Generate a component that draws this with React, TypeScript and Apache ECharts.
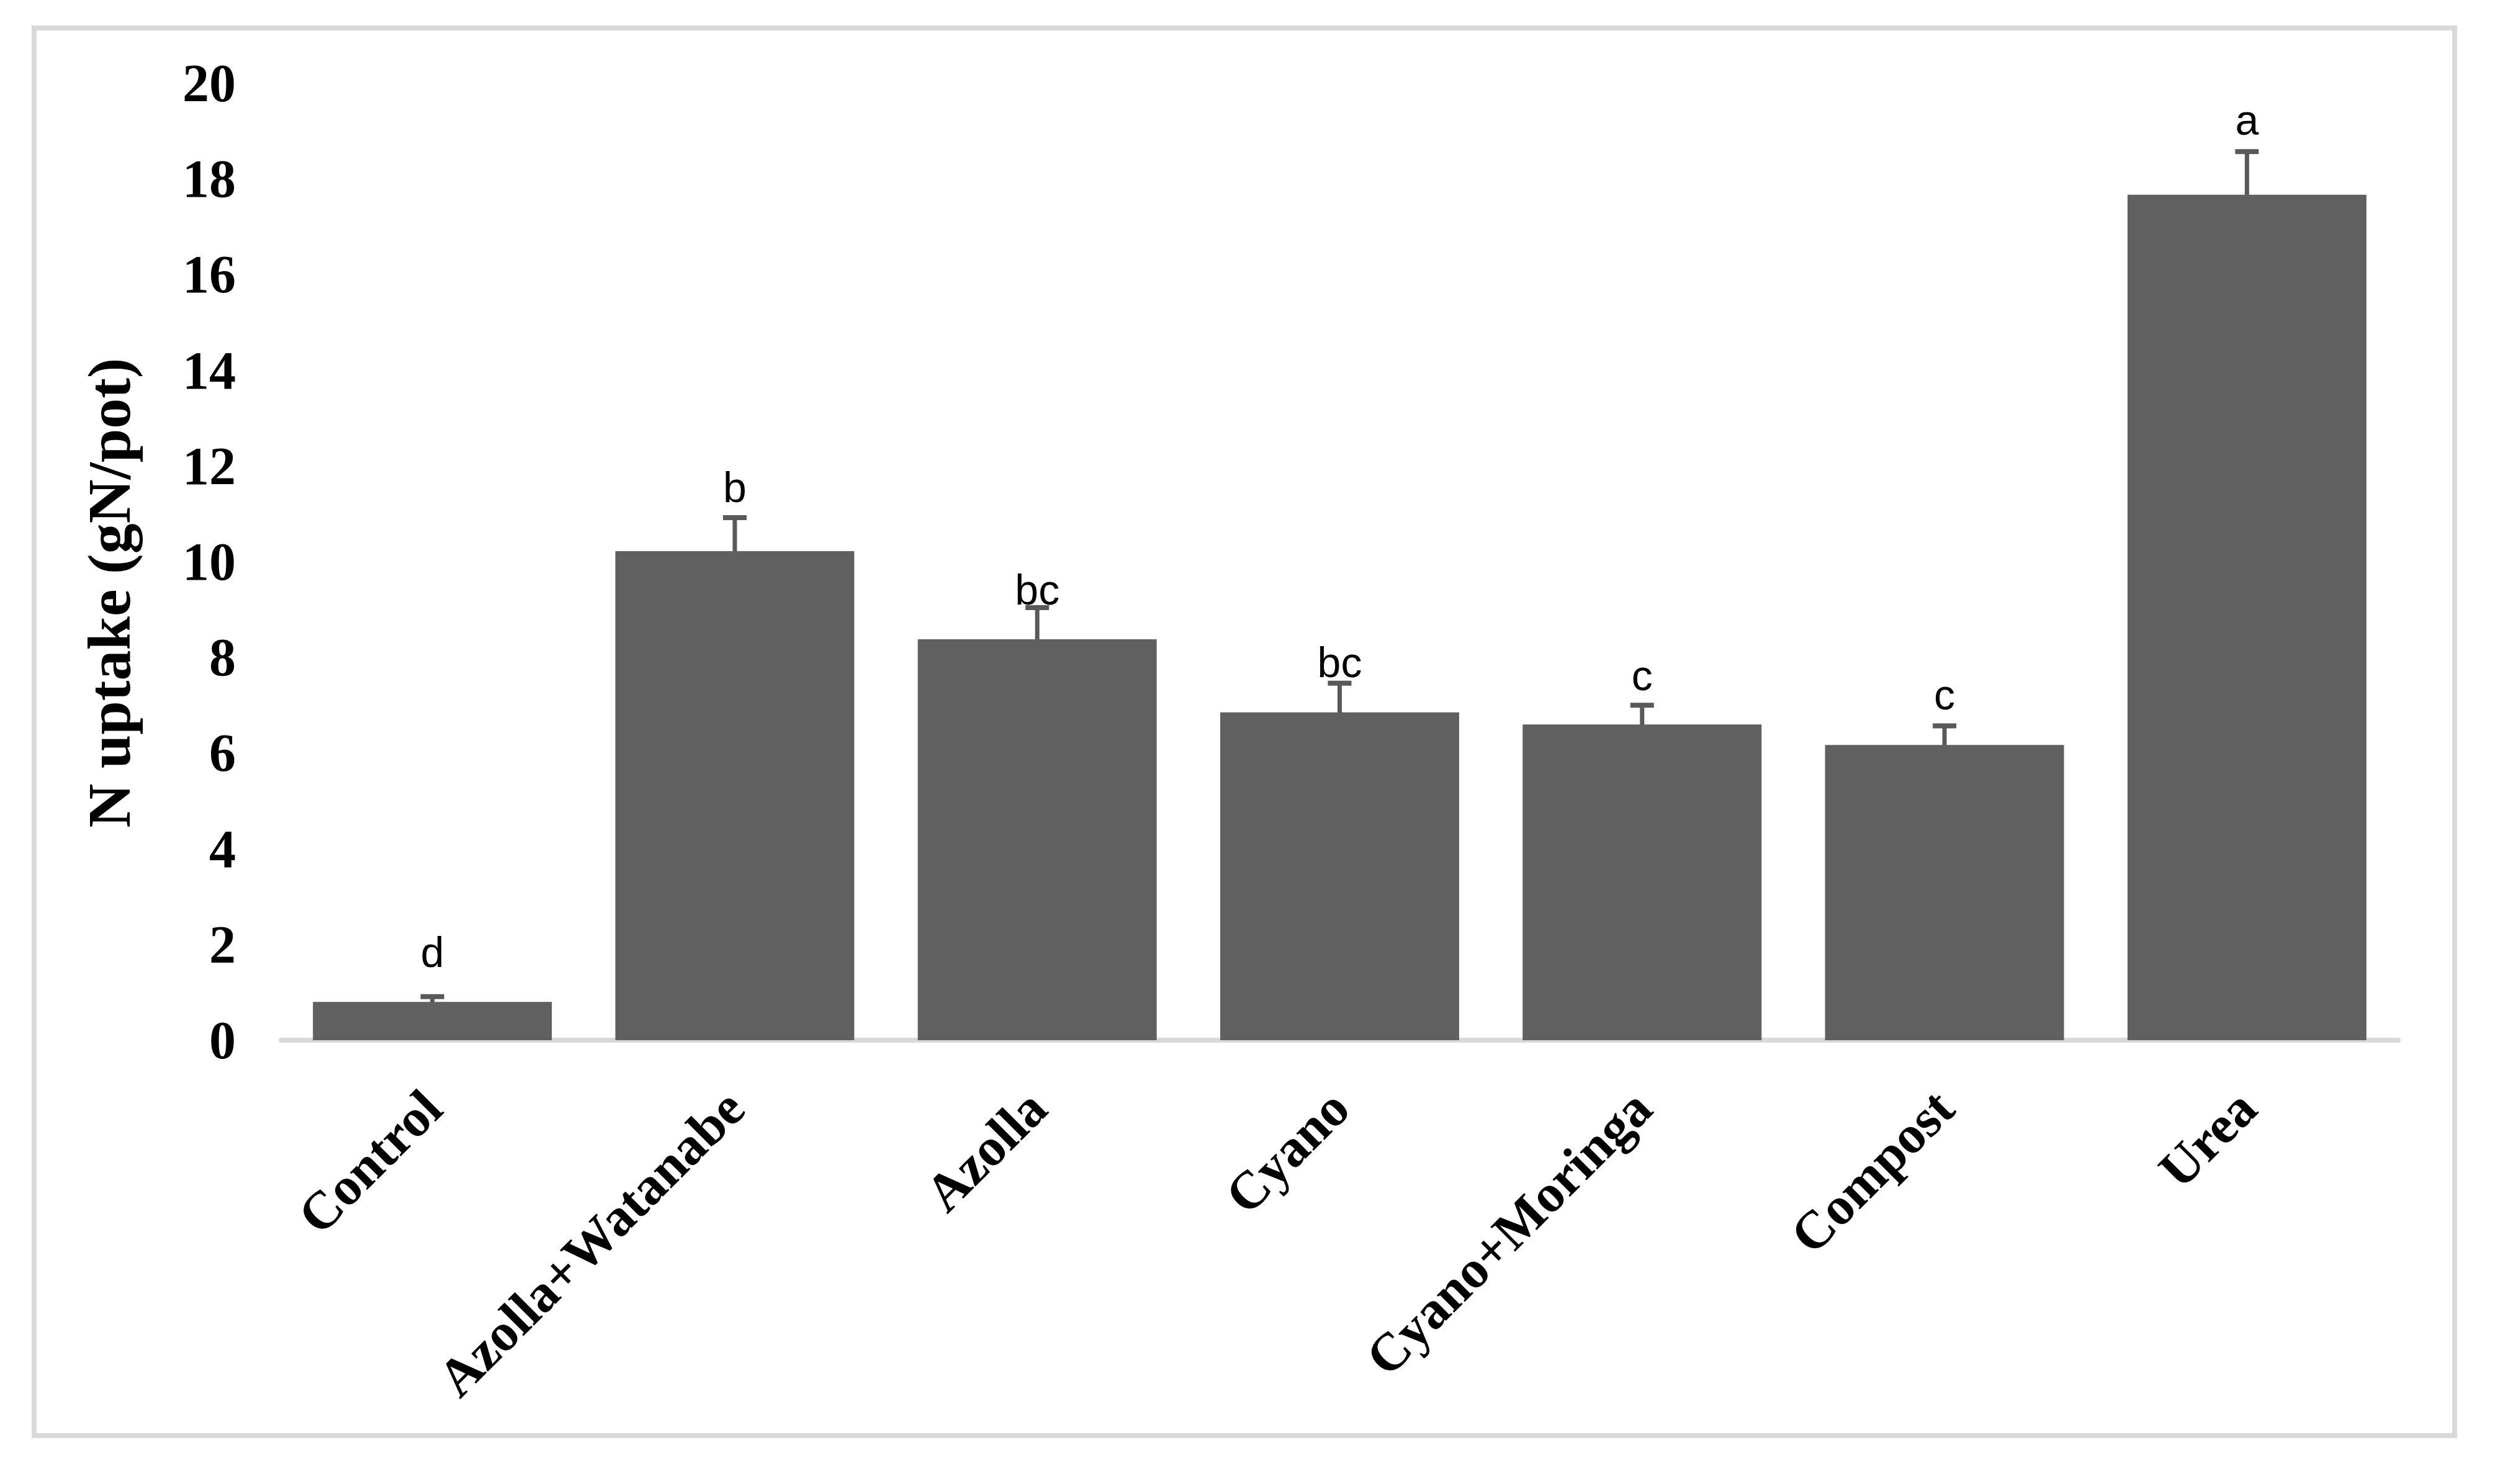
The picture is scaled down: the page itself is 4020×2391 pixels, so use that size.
import React, { useEffect, useRef } from "react";
import * as echarts from "echarts";

const categories = ["Control", "Azolla+Watanabe", "Azolla", "Cyano", "Cyano+Moringa", "Compost", "Urea"];
const uptake = [0.8, 10.22, 8.38, 6.85, 6.6, 6.17, 17.67];
const errors = [0.11, 0.7, 0.66, 0.61, 0.4, 0.4, 0.9];
const letters = ["d", "b", "bc", "bc", "c", "c", "a"];
const letterBaseline = [1.58, 11.3, 9.16, 7.64, 7.37, 6.97, 18.98];
const yTitle = "N uptake (gN/pot)";

export default function App() {
  const ref = useRef<HTMLDivElement>(null);
  useEffect(() => {
    if (!ref.current) return;
    const chart = echarts.init(ref.current, null, { renderer: "svg" });
    const serif = "'Liberation Serif', 'Times New Roman', serif";
    const sans = "'Liberation Sans', Arial, sans-serif";
    chart.setOption({
      animation: false,
      backgroundColor: "#ffffff",
      grid: { left: 453, right: 156, top: 134, bottom: 715, containLabel: false },
      xAxis: {
        type: "category",
        data: categories,
        axisLine: { show: true, lineStyle: { color: "#d9d9d9", width: 8 } },
        axisTick: { show: false },
        axisLabel: {
          interval: 0,
          rotate: 45,
          margin: 95,
          color: "#000",
          fontFamily: serif,
          fontWeight: "bold",
          fontSize: 86,
        },
      },
      yAxis: {
        type: "value",
        min: 0,
        max: 20,
        interval: 2,
        splitLine: { show: false },
        axisLine: { show: false },
        axisTick: { show: false },
        axisLabel: {
          margin: 73,
          color: "#000",
          fontFamily: serif,
          fontWeight: "bold",
          fontSize: 86,
        },
      },
      graphic: [
        {
          type: "rect",
          shape: { x: 55, y: 45, width: 3900, height: 2268 },
          style: { fill: "none", stroke: "#d9d9d9", lineWidth: 8 },
          silent: true,
        },
        {
          type: "text",
          x: 176,
          y: 955,
          rotation: Math.PI / 2,
          style: {
            text: yTitle,
            fontFamily: serif,
            fontWeight: "bold",
            fontSize: 98,
            fill: "#000",
            align: "center",
            verticalAlign: "middle",
          },
        },
      ],
      series: [
        {
          type: "bar",
          data: uptake,
          barCategoryGap: "21%",
          itemStyle: { color: "#606060" },
        },
        {
          type: "custom",
          data: categories.map((c, i) => [i, uptake[i], errors[i], letterBaseline[i]]),
          renderItem: (params: any, api: any) => {
            const i = api.value(0);
            const v = api.value(1);
            const e = api.value(2);
            const top = api.coord([i, v + e]);
            const bot = api.coord([i, v - e]);
            const lb = api.coord([i, api.value(3)]);
            const x = top[0];
            const half = 19;
            const st = { stroke: "#595959", lineWidth: 7 };
            return {
              type: "group",
              children: [
                { type: "line", shape: { x1: x, y1: top[1], x2: x, y2: bot[1] }, style: st },
                { type: "line", shape: { x1: x - half, y1: top[1], x2: x + half, y2: top[1] }, style: { stroke: "#595959", lineWidth: 8 } },
                { type: "line", shape: { x1: x - half, y1: bot[1], x2: x + half, y2: bot[1] }, style: { stroke: "#595959", lineWidth: 8 } },
                {
                  type: "text",
                  x: x,
                  y: lb[1] + 14,
                  style: {
                    text: letters[params.dataIndex],
                    fontFamily: sans,
                    fontSize: 68,
                    fill: "#000",
                    align: "center",
                    verticalAlign: "bottom",
                  },
                },
              ],
            };
          },
        },
      ],
    });
    return () => chart.dispose();
  }, []);
  return (
    <div
      ref={ref}
      style={{ position: "fixed", left: 0, top: 0, width: 4020, height: 2391, background: "#fff" }}
    />
  );
}
